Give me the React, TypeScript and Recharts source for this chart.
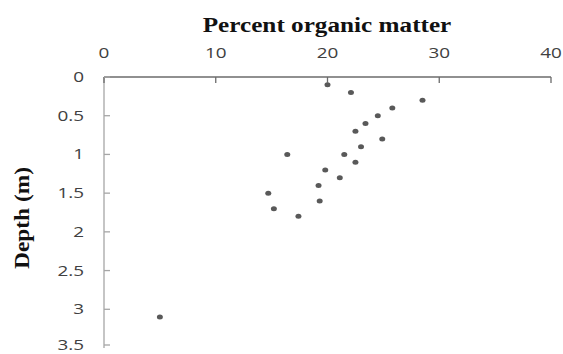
import { ScatterChart, Scatter, XAxis, YAxis } from "recharts";

const organic = [20.0, 22.1, 28.5, 25.8, 24.5, 23.4, 22.5, 24.9, 23.0, 16.4, 21.5, 22.5, 19.8, 21.1, 19.2, 14.7, 19.3, 15.2, 17.4, 5.0];
const depth = [0.1, 0.2, 0.3, 0.4, 0.5, 0.6, 0.7, 0.8, 0.9, 1.0, 1.0, 1.1, 1.2, 1.3, 1.4, 1.5, 1.6, 1.7, 1.8, 3.1];

const xTicks = [0, 10, 20, 30, 40];
const yTicks = [0, 0.5, 1, 1.5, 2, 2.5, 3, 3.5];

const data = organic.map((v, i) => ({ x: v, y: depth[i] }));

const tickFont = "'Open Sans', sans-serif";

const TopTick = (props: any) => {
  const { x, y, payload } = props;
  return (
    <g>
      <line x1={x} y1={y} x2={x} y2={y + 6} stroke="#6b6b6b" strokeWidth={1.3} />
      <text
        transform={`translate(${x},${y - 19}) scale(1.26,1)`}
        textAnchor="middle"
        fontSize={15}
        fontFamily={tickFont}
        fill="#404040"
      >
        {payload.value}
      </text>
    </g>
  );
};

const LeftTick = (props: any) => {
  const { x, y, payload } = props;
  return (
    <g>
      <line x1={x} y1={y} x2={x + 6} y2={y} stroke="#a6a6a6" strokeWidth={1.3} />
      <text
        transform={`translate(${x - 20},${y + 5}) scale(1.26,1)`}
        textAnchor="end"
        fontSize={15}
        fontFamily={tickFont}
        fill="#404040"
      >
        {payload.value}
      </text>
    </g>
  );
};

const Dot = (props: any) => <ellipse cx={props.cx} cy={props.cy} rx={3} ry={2.5} fill="#595959" />;

export default function App() {
  return (
    <div style={{ position: "absolute", left: 0, top: 0, width: 563, height: 354, background: "#fff" }}>
      <div
        style={{
          position: "absolute",
          left: 327,
          top: 25,
          transform: "translate(-50%, -50%) scale(1.26, 1)",
          whiteSpace: "nowrap",
          fontFamily: "'Liberation Serif', serif",
          fontWeight: "bold",
          fontSize: 20,
          color: "#111",
        }}
      >
        Percent organic matter
      </div>
      <div
        style={{
          position: "absolute",
          left: 22,
          top: 218,
          transform: "translate(-50%, -50%) rotate(-90deg) scale(1.17, 1)",
          whiteSpace: "nowrap",
          fontFamily: "'Liberation Serif', serif",
          fontWeight: "bold",
          fontSize: 20,
          color: "#111",
        }}
      >
        Depth (m)
      </div>
      <ScatterChart width={563} height={354} margin={{ top: 37, left: 44, right: 12, bottom: 6 }}>
        <XAxis
          type="number"
          dataKey="x"
          orientation="top"
          domain={[0, 40]}
          ticks={xTicks}
          height={40}
          tickSize={0}
          tickMargin={0}
          tickLine={false}
          axisLine={{ stroke: "#6b6b6b", strokeWidth: 1.3 }}
          tick={<TopTick />}
        />
        <YAxis
          type="number"
          dataKey="y"
          reversed
          domain={[0, 3.5]}
          ticks={yTicks}
          width={60}
          tickSize={0}
          tickMargin={0}
          tickLine={false}
          axisLine={{ stroke: "#a6a6a6", strokeWidth: 1.3 }}
          tick={<LeftTick />}
        />
        <Scatter data={data} fill="#595959" shape={<Dot />} isAnimationActive={false} />
      </ScatterChart>
    </div>
  );
}
